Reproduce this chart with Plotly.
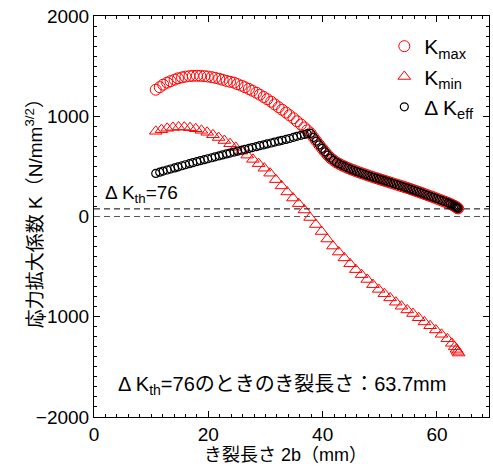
import plotly.graph_objects as go

# ---- data ----
# shared crack-length positions for Kmax and ΔKeff (mm)
crack_len = [10.8, 11.5, 12.1, 12.8, 13.4, 14.1, 14.7, 15.4, 16.0, 16.7, 17.3, 18.0, 18.6, 19.3,
             19.9, 20.6, 21.2, 21.9, 22.5, 23.2, 23.8, 24.5, 25.1, 25.8, 26.4, 27.1, 27.7, 28.4,
             29.0, 29.7, 30.3, 31.0, 31.6, 32.3, 32.9, 33.6, 34.2, 34.9, 35.5, 36.2, 36.8, 37.3,
             37.9, 38.4, 38.9, 39.4, 39.9, 40.4, 40.9, 41.4, 41.9, 42.4, 42.9, 43.4, 43.9, 44.4,
             44.9, 45.4, 45.9, 46.4, 46.9, 47.4, 47.9, 48.4, 48.9, 49.4, 49.9, 50.4, 50.9, 51.4,
             51.9, 52.4, 52.9, 53.4, 53.9, 54.4, 54.9, 55.4, 55.9, 56.4, 56.9, 57.4, 57.9, 58.4,
             58.9, 59.4, 59.9, 60.4, 60.9, 61.4, 61.9, 62.3, 62.7, 63.0, 63.2, 63.4, 63.55, 63.7]

k_max = [1265, 1290, 1315, 1335, 1350, 1365, 1378, 1388, 1395, 1400, 1403, 1404, 1403, 1400,
         1396, 1390, 1383, 1374, 1364, 1352, 1344, 1335, 1320, 1305, 1290, 1272, 1255, 1235,
         1215, 1192, 1170, 1145, 1118, 1090, 1065, 1037, 1010, 980, 950, 918, 888, 860,
         830, 790, 752, 715, 680, 645, 612, 583, 560, 540, 524, 510, 497, 484,
         472, 461, 450, 440, 430, 420, 410, 400, 391, 382, 373, 364, 355, 346,
         337, 328, 319, 310, 301, 292, 283, 273, 263, 253, 243, 233, 222, 212,
         201, 191, 180, 169, 158, 147, 136, 126, 115, 106, 99, 92, 87, 80]

dk_eff = [430, 442, 453, 464, 474, 485, 495, 506, 516, 527, 537, 548, 557, 567,
          576, 586, 595, 605, 614, 624, 633, 643, 652, 661, 670, 679, 688, 697,
          706, 715, 724, 733, 742, 751, 760, 769, 778, 790, 800, 810, 818, 826,
          830, 790, 752, 715, 680, 645, 612, 583, 560, 540, 524, 510, 497, 484,
          472, 461, 450, 440, 430, 420, 410, 400, 391, 382, 373, 364, 355, 346,
          337, 328, 319, 310, 301, 292, 283, 273, 263, 253, 243, 233, 222, 212,
          201, 191, 180, 169, 158, 147, 136, 126, 115, 106, 99, 92, 87, 80]

kmin_len = [10.8, 11.8, 12.8, 13.8, 14.8, 15.8, 16.8, 17.8, 18.8, 19.8, 20.8, 21.8, 22.8, 23.8,
            24.8, 25.8, 26.8, 27.8, 28.8, 29.8, 30.8, 31.8, 32.8, 33.8, 34.8, 35.8, 36.8, 37.8,
            38.8, 39.8, 40.8, 41.8, 42.8, 43.8, 44.8, 45.8, 46.8, 47.8, 48.8, 49.8, 50.8, 51.8,
            52.8, 53.8, 54.8, 55.8, 56.8, 57.8, 58.8, 59.8, 60.8, 61.8, 62.6, 63.1, 63.4, 63.6, 63.8]

k_min = [850, 866, 880, 889, 893, 892, 886, 875, 860, 840, 815, 788, 758, 726,
         690, 652, 612, 570, 527, 482, 432, 368, 305, 245, 184, 128, 65, -10,
         -80, -150, -225, -295, -355, -413, -472, -530, -580, -628, -680, -727, -770, -812,
         -855, -895, -932, -968, -1010, -1052, -1090, -1132, -1175, -1220, -1265, -1300, -1325, -1345, -1362]

dk_th = 76
crack_at_th = 63.7

x_ticks = [0, 20, 40, 60]
y_ticks = [-2000, -1000, 0, 1000, 2000]

FONT = "Liberation Sans, Arial, Noto Sans CJK JP, sans-serif"

fig = go.Figure()
fig.add_trace(go.Scatter(
    x=crack_len, y=k_max, mode="markers", name="K<sub>max</sub>",
    marker=dict(symbol="circle-open", size=11, color="#ff0000", line=dict(width=1))))
fig.add_trace(go.Scatter(
    x=kmin_len, y=k_min, mode="markers", name="K<sub>min</sub>",
    marker=dict(symbol="triangle-up-open", size=11, color="#ff0000", line=dict(width=1))))
fig.add_trace(go.Scatter(
    x=crack_len, y=dk_eff, mode="markers", name="Δ K<sub>eff</sub>",
    marker=dict(symbol="circle-open", size=8, color="#000000", line=dict(width=1.2))))

fig.add_shape(type="line", xref="paper", x0=0, x1=1, yref="y", y0=dk_th, y1=dk_th,
              line=dict(color="black", width=1, dash="6px,4px"))
fig.add_shape(type="line", xref="paper", x0=0, x1=1, yref="y", y0=0, y1=0,
              line=dict(color="#555555", width=1.2, dash="6px,4px"))

fig.add_annotation(x=1.5, y=dk_th + 5, xref="x", yref="y", xanchor="left", yanchor="bottom",
                   text="Δ K<sub>th</sub>=%d" % dk_th, showarrow=False,
                   font=dict(family=FONT, size=19, color="black"))
fig.add_annotation(x=3.8, y=-1690, xref="x", yref="y", xanchor="left", yanchor="middle",
                   text="Δ K<sub>th</sub>=%dのときのき裂長さ：%.1fmm" % (dk_th, crack_at_th),
                   showarrow=False, font=dict(family=FONT, size=20, color="black"))

fig.add_annotation(x=0.485, y=-0.095, xref="paper", yref="paper", xanchor="center", yanchor="middle",
                   text="き裂長さ 2b（mm）", showarrow=False,
                   font=dict(family=FONT, size=18, color="black"))
fig.add_annotation(x=-0.15, y=0.52, xref="paper", yref="paper", xanchor="center", yanchor="middle",
                   text="応力拡大係数 K（N/mm<sup>3/2</sup>）", textangle=-90, showarrow=False,
                   font=dict(family=FONT, size=19, color="black"))

axis_common = dict(showgrid=False, zeroline=False, showline=True, linecolor="black", linewidth=1,
                   mirror="ticks", ticks="inside", ticklen=6, tickwidth=1, tickcolor="black",
                   automargin=False,
                   tickfont=dict(family=FONT, size=19, color="black"))
fig.update_xaxes(range=[0, 69.1], tickvals=x_ticks,
                 minor=dict(ticks="inside", ticklen=3, dtick=2, tickcolor="black", showgrid=False),
                 **axis_common)
fig.update_yaxes(range=[-2000, 2000], tickvals=y_ticks,
                 minor=dict(ticks="inside", ticklen=3, dtick=100, tickcolor="black", showgrid=False),
                 **axis_common)

fig.update_layout(
    width=493, height=468,
    margin=dict(l=94, r=4, t=16, b=51, autoexpand=False),
    plot_bgcolor="white", paper_bgcolor="white",
    showlegend=True,
    legend=dict(x=0.735, y=0.975, xanchor="left", yanchor="top", bgcolor="rgba(0,0,0,0)",
                font=dict(family=FONT, size=21, color="black"), itemsizing="trace"),
)

fig.write_html("out.html", config={"displayModeBar": False},
               post_script="document.body.style.margin='0';document.body.style.padding='0';")
